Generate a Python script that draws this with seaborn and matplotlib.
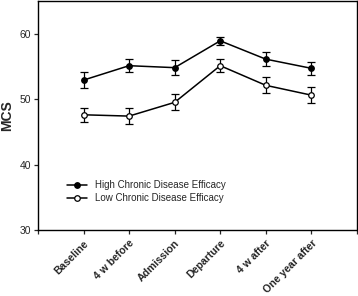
import matplotlib
matplotlib.use('Agg')
import numpy as np
import pandas as pd
import matplotlib.pyplot as plt
import seaborn as sns

# data
timepoints = ["Baseline", "4 w before", "Admission", "Departure", "4 w after", "One year after"]
high_mean = [52.9, 55.1, 54.8, 58.9, 56.1, 54.7]
high_err = [1.2, 1.0, 1.1, 0.6, 1.1, 1.0]
low_mean = [47.6, 47.4, 49.5, 55.1, 52.1, 50.6]
low_err = [1.1, 1.2, 1.2, 1.0, 1.2, 1.2]
groups = ["High Chronic Disease Efficacy", "Low Chronic Disease Efficacy"]

pos = np.arange(1, len(timepoints) + 1)
df = pd.DataFrame({
    "pos": np.concatenate([pos, pos]),
    "MCS": high_mean + low_mean,
    "err": high_err + low_err,
    "group": [groups[0]] * len(pos) + [groups[1]] * len(pos),
})

sns.set_style("ticks")
plt.rcParams['font.family'] = ['Liberation Sans', 'DejaVu Sans']

fig = plt.figure(figsize=(3.58, 2.96), dpi=100)
ax = fig.add_axes([0.106, 0.223, 0.891, 0.774])

for g, face in zip(groups, ["black", "white"]):
    sub = df[df["group"] == g]
    ax.errorbar(sub["pos"], sub["MCS"], yerr=sub["err"], fmt="none",
                ecolor="black", elinewidth=0.9, capsize=3, capthick=0.9, zorder=2)
    sns.lineplot(data=sub, x="pos", y="MCS", ax=ax, color="black", lw=1.1,
                 marker="o", markersize=4, markerfacecolor=face,
                 markeredgecolor="black", markeredgewidth=0.9, label=g, zorder=3)

ax.set_xlim(0, 7)
ax.set_ylim(30, 65)
ax.set_yticks([30, 40, 50, 60])
ax.set_xticks(np.arange(0, 8))
ax.set_xticklabels([""] + timepoints + [""], rotation=45, ha="right",
                   rotation_mode="anchor", fontweight="bold", fontsize=7.6)
ax.tick_params(axis="y", labelsize=7.5, length=3, width=0.9, pad=2)
ax.tick_params(axis="x", length=3, width=0.9, pad=3)
ax.set_xlabel("")
ax.set_ylabel("MCS", fontweight="bold", fontsize=10, labelpad=4)
for s in ax.spines.values():
    s.set_linewidth(1.0)
    s.set_color("black")

ax.legend(loc="upper left", bbox_to_anchor=(0.08, 0.235), frameon=False,
          fontsize=7, handlelength=2.0, handletextpad=0.8, labelspacing=0.3,
          borderaxespad=0)

fig.savefig("out.png", dpi=100)
